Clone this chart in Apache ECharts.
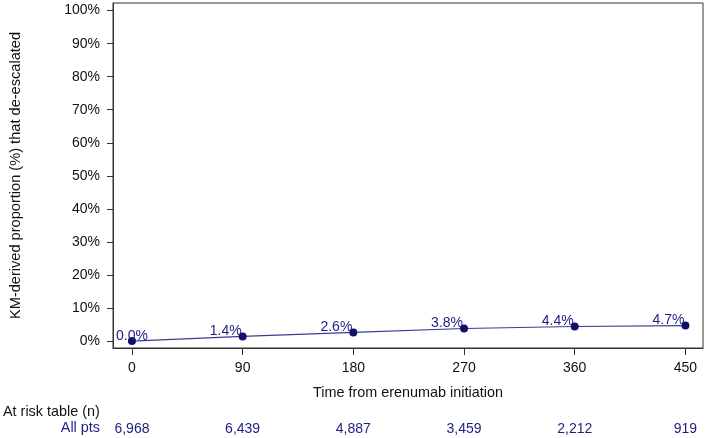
<!DOCTYPE html>
<html>
<head>
<meta charset="utf-8">
<script src="https://cdn.jsdelivr.net/npm/echarts@6/dist/echarts.min.js"></script>
<style>
html,body{margin:0;padding:0;background:#fff;}
#chart{width:709px;height:438px;}
</style>
</head>
<body>
<div id="chart"></div>
<script>
// Data
const timePoints = [0, 90, 180, 270, 360, 450];
const proportionPct = [0.0, 1.4, 2.6, 3.8, 4.4, 4.7];
const atRiskAllPts = [6968, 6439, 4887, 3459, 2212, 919];
const yTicks = [0, 10, 20, 30, 40, 50, 60, 70, 80, 90, 100];

const FONT = 'Liberation Sans, Arial, sans-serif';
const NAVY = '#1e1e82';

const chart = echarts.init(document.getElementById('chart'), null, {renderer: 'canvas'});

const seriesData = timePoints.map((t, i) => {
  const item = {value: [t, proportionPct[i]]};
  if (i === 0) {
    item.label = {position: 'inside', offset: [0, -5]};
  }
  return item;
});

const countMap = {};
timePoints.forEach((t, i) => { countMap[t] = atRiskAllPts[i]; });

const option = {
  animation: false,
  backgroundColor: '#ffffff',
  textStyle: {fontFamily: FONT},
  grid: {
    left: 111, right: 6, top: 3, bottom: 90,
    show: true, borderColor: '#333', borderWidth: 1, backgroundColor: 'transparent'
  },
  xAxis: [{
    type: 'value',
    min: -15.4, max: 464.3,
    position: 'bottom',
    name: 'Time from erenumab initiation',
    nameLocation: 'middle',
    nameGap: 38,
    nameTextStyle: {fontSize: 14.4, color: '#111', fontFamily: FONT},
    axisLine: {show: true, onZero: false, lineStyle: {color: '#333', width: 1}},
    axisTick: {show: true, length: 7, customValues: timePoints, lineStyle: {color: '#333'}},
    axisLabel: {customValues: timePoints, margin: 13, fontSize: 14, color: '#111', fontFamily: FONT},
    splitLine: {show: false}
  }, {
    type: 'value',
    min: -15.4, max: 464.3,
    position: 'bottom',
    axisLine: {show: false},
    axisTick: {show: false},
    axisLabel: {
      customValues: timePoints, margin: 74, fontSize: 14, color: NAVY, fontFamily: FONT,
      formatter: v => (countMap[v] !== undefined ? countMap[v].toLocaleString('en-US') : '')
    },
    splitLine: {show: false}
  }],
  yAxis: {
    type: 'value',
    min: -2.1, max: 102.3,
    name: 'KM-derived proportion (%) that de-escalated',
    nameLocation: 'middle',
    nameGap: 90,
    nameTextStyle: {fontSize: 14.6, color: '#111', fontFamily: FONT},
    axisLine: {show: true, onZero: false, lineStyle: {color: '#333', width: 1}},
    axisTick: {show: true, length: 6, customValues: yTicks, lineStyle: {color: '#333'}},
    axisLabel: {customValues: yTicks, margin: 13, fontSize: 14, color: '#111', fontFamily: FONT,
      formatter: v => v + '%'},
    splitLine: {show: false}
  },
  graphic: [
    {type: 'text', left: 3, top: 405, style: {text: 'At risk table (n)', fontSize: 14.4, fill: '#111', fontFamily: FONT}},
    {type: 'text', right: 609, top: 421, style: {text: 'All pts', fontSize: 14.4, fill: NAVY, fontFamily: FONT, textAlign: 'right'}}
  ],
  series: [{
    type: 'line',
    xAxisIndex: 0,
    data: seriesData,
    symbol: 'circle',
    symbolSize: 8,
    showAllSymbol: true,
    lineStyle: {color: '#3b3b95', width: 1.2},
    itemStyle: {color: '#10106a'},
    label: {
      show: true,
      position: 'left',
      distance: -3,
      offset: [0, -5],
      fontSize: 14,
      color: NAVY,
      fontFamily: FONT,
      formatter: p => p.value[1].toFixed(1) + '%'
    },
    z: 3
  }]
};
chart.setOption(option);
</script>
</body>
</html>
